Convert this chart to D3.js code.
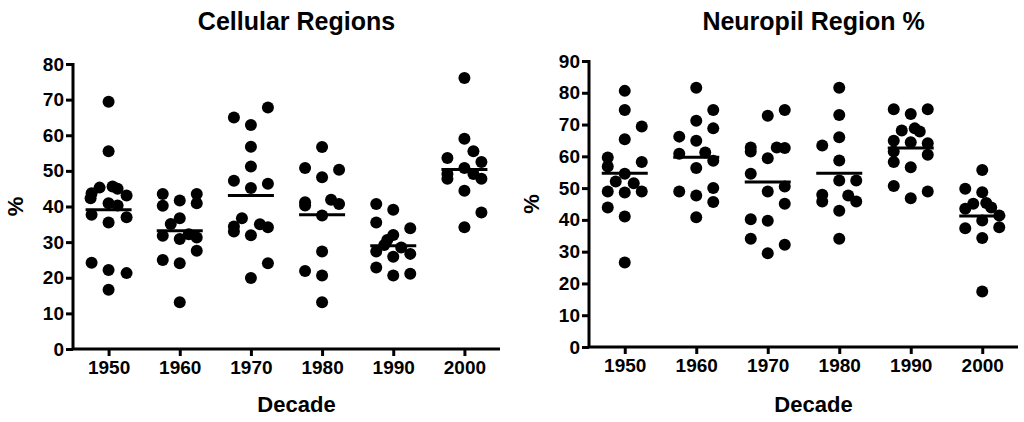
<!DOCTYPE html>
<html><head><meta charset="utf-8">
<script src="https://cdn.jsdelivr.net/npm/d3@7"></script>
<style>body{margin:0;background:#fff}text{font-family:Arial,"Liberation Sans",sans-serif;font-weight:bold;fill:#000}</style>
</head><body><svg id="c" width="1024" height="422"></svg>
<script>
const decades = ["1950","1960","1970","1980","1990","2000"];
// each point: [value, horizontal lane offset (px)]
const cellular = [
 [[69.4,0],[55.5,0],[45.3,-9],[45.6,4],[45,9],[43.7,-17],[43.1,18],[42.3,-18],[40.9,0],[40.3,9],[37.7,-17],[37,18],[35.5,0],[24.2,-17],[22.2,0],[21.3,18],[16.6,0]],
 [[43.5,-17],[43.5,17],[41.7,0],[40.9,17],[40.2,-17],[36.7,0],[35.1,-9],[31.8,-17],[32.2,9],[30.9,0],[31.3,17],[27.6,17],[25,-17],[24.1,0],[13.1,0]],
 [[67.8,17],[65,-17],[62.9,0],[56.8,0],[51.2,0],[47.2,-17],[46.4,17],[45.2,0],[36.7,-9],[34.4,-17],[35,9],[34.2,17],[33,-17],[31.9,0],[24.1,17],[19.9,0]],
 [[56.7,0],[50.8,-17],[50.3,17],[48.2,0],[41.2,-17],[40.3,-17],[41.9,9],[40.7,17],[37.5,0],[27.4,0],[21.9,-17],[20.6,0],[13.1,0]],
 [[40.7,-17],[39.1,0],[35.5,-17],[33.9,17],[32,0],[30.6,-6],[29.2,-9],[28.5,8],[27.4,-17],[26.7,17],[25.9,0],[22.9,-17],[20.6,0],[21.1,17]],
 [[76.1,0],[59,0],[53.6,-17],[55.5,9],[52.5,17],[50.8,0],[49.1,-17],[47.8,-17],[49.1,9],[47.8,17],[44.4,0],[38.3,17],[34.2,0]]
];
const cellularMeans = [39.1,33.2,43.1,37.7,29,50.4];
const neuropil = [
 [[80.6,0],[74.6,0],[69.4,17],[65.4,0],[59.6,-17],[58.2,17],[56.8,-17],[54.5,0],[52.1,-9],[51.5,9],[48.9,-17],[48.6,0],[48.9,17],[43.9,-17],[41.1,0],[26.6,0]],
 [[81.6,0],[74.6,17],[71.2,0],[68.8,17],[66.2,-17],[64.9,0],[60.8,-17],[61.2,9],[58.6,17],[56.3,0],[48.9,-17],[50,17],[47.7,0],[45.6,17],[40.8,0]],
 [[72.8,0],[74.6,17],[62.8,-17],[61.5,-17],[62.8,9],[62.6,17],[59.4,0],[54.5,-17],[48.9,0],[50.5,17],[45.1,17],[40.2,-17],[39.7,0],[34.1,-17],[29.5,0],[32.2,17]],
 [[81.6,0],[73,0],[66,0],[63.4,-17],[58.7,0],[52.4,0],[52.4,17],[47.9,-17],[47.7,9],[45.8,-17],[45.8,17],[42.9,0],[34.1,0]],
 [[74.8,-17],[73.3,0],[74.8,17],[68.1,-9],[68.8,4],[67.8,9],[64.9,-17],[64.4,0],[64.1,17],[61.5,-17],[60.5,17],[58.2,-17],[56.6,0],[50.7,-17],[46.8,0],[48.9,17]],
 [[55.7,0],[49.8,-17],[48.7,0],[45.1,-9],[45.3,4],[43.9,9],[43.5,-17],[41.4,17],[39.8,0],[37.4,-17],[37.7,17],[34.3,0],[17.5,0]]
];
const neuropilMeans = [54.7,59.7,51.9,54.7,62.6,41.2];
const cellTicks = d3.range(0,81,10), neuroTicks = d3.range(0,91,10);

const svg = d3.select("#c");
function panel(o){
  const g = svg.append("g");
  const x = d3.scalePoint().domain(decades).range([o.x0,o.x1]).padding(0.5);
  const y = d3.scaleLinear().domain([0,o.max]).range([o.y0,o.y1]);
  const ya = g.append("g").attr("transform",`translate(${o.x0},0)`).call(d3.axisLeft(y).tickValues(o.ticks).tickSize(7).tickPadding(2));
  const xa = g.append("g").attr("transform",`translate(0,${o.y0})`).call(d3.axisBottom(x).tickSize(7).tickPadding(5));
  [ya,xa].forEach(a=>{a.selectAll("path,line").attr("stroke","#000").attr("stroke-width",3);
    a.selectAll("text").style("font-size","19px").style("font-family","Arial,'Liberation Sans',sans-serif").style("font-weight","bold");});
  ya.select(".domain").attr("d",`M0,${o.y0}V${o.y1-1}`);
  xa.select(".domain").attr("d",`M${o.x0},0H${o.x1}`);
  o.data.forEach((grp,i)=>{
    g.selectAll(null).data(grp).enter().append("circle")
      .attr("cx",d=>x(decades[i])+d[1]).attr("cy",d=>y(d[0])).attr("r",6).attr("fill","#000");
    g.append("line").attr("x1",x(decades[i])-23).attr("x2",x(decades[i])+23)
      .attr("y1",y(o.means[i])).attr("y2",y(o.means[i])).attr("stroke","#000").attr("stroke-width",3);
  });
  g.append("text").attr("x",(o.x0+o.x1)/2+10).attr("y",30).attr("text-anchor","middle").style("font-size","25px").text(o.title);
  g.append("text").attr("x",(o.x0+o.x1)/2+10).attr("y",412).attr("text-anchor","middle").style("font-size","22px").text("Decade");
  g.append("text").attr("transform",`translate(${o.x0-50},${(o.y0+o.y1)/2}) rotate(-90)`).attr("text-anchor","middle").style("font-size","22px").text("%");
}
panel({x0:73,x1:500,y0:349,y1:64,max:80,ticks:cellTicks,data:cellular,means:cellularMeans,title:"Cellular Regions"});
panel({x0:589,x1:1018,y0:347,y1:61,max:90,ticks:neuroTicks,data:neuropil,means:neuropilMeans,title:"Neuropil Region %"});
</script></body></html>
